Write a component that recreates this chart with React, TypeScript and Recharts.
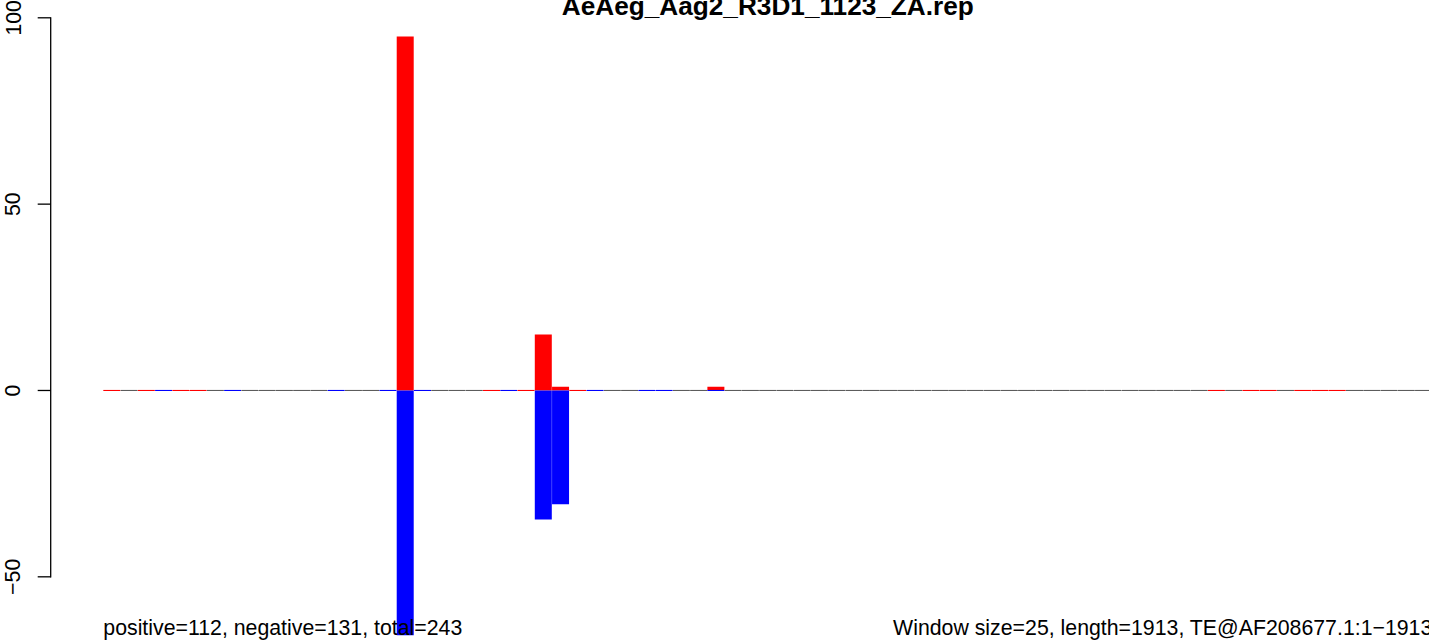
import React from 'react';
import { BarChart, Bar, XAxis, YAxis, ReferenceArea } from 'recharts';

// Window start positions (window size 25, length 1913)
const bins = [
  1, 26, 51, 76, 101, 126, 151, 176, 201, 226,
  251, 276, 301, 326, 351, 376, 401, 426, 451, 476,
  501, 526, 551, 576, 601, 626, 651, 676, 701, 726,
  751, 776, 801, 826, 851, 876, 901, 926, 951, 976,
  1001, 1026, 1051, 1076, 1101, 1126, 1151, 1176, 1201, 1226,
  1251, 1276, 1301, 1326, 1351, 1376, 1401, 1426, 1451, 1476,
  1501, 1526, 1551, 1576, 1601, 1626, 1651, 1676, 1701, 1726,
  1751, 1776, 1801, 1826, 1851, 1876, 1901,
];

const positive = [
  0, 0, 0, 0, 0, 0, 0, 0, 0, 0,
  0, 0, 0, 0, 0, 0, 0, 95, 0, 0,
  0, 0, 0, 0, 0, 15, 1, 0, 0, 0,
  0, 0, 0, 0, 0, 1, 0, 0, 0, 0,
  0, 0, 0, 0, 0, 0, 0, 0, 0, 0,
  0, 0, 0, 0, 0, 0, 0, 0, 0, 0,
  0, 0, 0, 0, 0, 0, 0, 0, 0, 0,
  0, 0, 0, 0, 0, 0, 0,
];

const negative = [
  0, 0, 0, 0, 0, 0, 0, 0, 0, 0,
  0, 0, 0, 0, 0, 0, 0, -65.7, 0, 0,
  0, 0, 0, 0, 0, -34.6, -30.5, 0, 0, 0,
  0, 0, 0, 0, 0, 0, 0, 0, 0, 0,
  0, 0, 0, 0, 0, 0, 0, 0, 0, 0,
  0, 0, 0, 0, 0, 0, 0, 0, 0, 0,
  0, 0, 0, 0, 0, 0, 0, 0, 0, 0,
  0, 0, 0, 0, 0, 0, 0,
];

// zero-height bars drawn as a line at 0: r = red (positive strand), b = blue (negative strand)
const zeroMarks = [
  'r', '', 'r', 'b', 'r', 'r', '', 'b', '', '',
  '', '', '', 'b', '', '', 'b', '', 'b', '',
  '', '', 'r', 'b', 'r', '', '', 'r', 'b', '',
  '', 'b', 'b', '', '', 'b', '', '', '', '',
  '', '', '', '', '', '', '', '', '', '',
  '', '', '', '', '', '', '', '', '', '',
  '', '', '', '', 'r', '', 'r', 'r', '', 'r',
  'r', 'r', '', '', '', '', '',
];

const yTicks = [100, 50, 0, -50];

const title = 'AeAeg_Aag2_R3D1_1123_ZA.rep';
const footLeft = 'positive=112, negative=131, total=243';
const footRight = 'Window size=25, length=1913, TE@AF208677.1:1\u22121913';

const data = bins.map((b, i) => ({
  bin: b,
  pos: positive[i],
  neg: negative[i],
  zero: 0,
  mark: zeroMarks[i],
}));

const FONT = '"Liberation Sans", Arial, Helvetica, sans-serif';
const RED = '#ff0000';
const BLUE = '#0000ff';
const GREY = '#5c5c5c';

const YTick = (props: any) => {
  const { y, payload } = props;
  const v = payload.value as number;
  const label = v < 0 ? '\u2212' + Math.abs(v) : String(v);
  return (
    <g>
      <line x1={37.7} x2={50.7} y1={y} y2={y} stroke="#000" strokeWidth={1.3} />
      <text
        x={20.5}
        y={y}
        transform={`rotate(-90 20.5 ${y})`}
        textAnchor="middle"
        fontSize={21.3}
        fontFamily={FONT}
        fill="#000"
      >
        {label}
      </text>
    </g>
  );
};

// zero line: coloured where a zero-height strand bar exists, grey baseline where the bin is empty
const ZeroMark = (props: any) => {
  const { x, y, width, payload } = props;
  if (!payload) return null;
  const m = payload.mark;
  let color = '';
  if (m === 'r') color = RED;
  else if (m === 'b') color = BLUE;
  else if (payload.pos === 0 && payload.neg === 0) color = GREY;
  if (!color) return null;
  return <line x1={x} x2={x + width} y1={y} y2={y} stroke={color} strokeWidth={1.1} />;
};

const AxisLine = (p: any) => (
  <line x1={50.7} x2={50.7} y1={p.y} y2={p.y + p.height} stroke="#000" strokeWidth={1.3} strokeLinecap="square" />
);

export default function App() {
  return (
    <div
      style={{
        position: 'absolute',
        left: 0,
        top: 0,
        width: 1429,
        height: 641,
        overflow: 'hidden',
        background: '#fff',
      }}
    >
      <BarChart
        width={1440}
        height={644}
        data={data}
        margin={{ top: 17.8, right: 7.7, bottom: 0.1, left: 0 }}
        barCategoryGap={0}
        barGap={0}
        stackOffset="sign"
      >
        <XAxis dataKey="bin" hide height={0} />
        <XAxis dataKey="bin" xAxisId="m" hide height={0} />
        <YAxis
          width={103.3}
          domain={[-68, 100]}
          ticks={yTicks}
          interval={0}
          axisLine={false}
          tickLine={false}
          tick={<YTick />}
          allowDataOverflow={false}
        />
        <ReferenceArea y1={-50} y2={100} shape={AxisLine} fillOpacity={0} />
        <Bar dataKey="pos" stackId="s" fill={RED} isAnimationActive={false} />
        <Bar dataKey="neg" stackId="s" fill={BLUE} isAnimationActive={false} />
        <Bar dataKey="zero" xAxisId="m" shape={ZeroMark} isAnimationActive={false} />
      </BarChart>
      <svg
        width={1429}
        height={641}
        style={{ position: 'absolute', left: 0, top: 0, pointerEvents: 'none' }}
      >
        <text x={767.8} y={14.5} textAnchor="middle" fontWeight="bold" fontSize={26.2} fontFamily={FONT} fill="#000">
          {title}
        </text>
        <text x={103.3} y={634.5} fontSize={21.3} fontFamily={FONT} fill="#000">
          {footLeft}
        </text>
        <text x={1432.3} y={634.5} textAnchor="end" fontSize={21.3} fontFamily={FONT} fill="#000">
          {footRight}
        </text>
      </svg>
    </div>
  );
}
